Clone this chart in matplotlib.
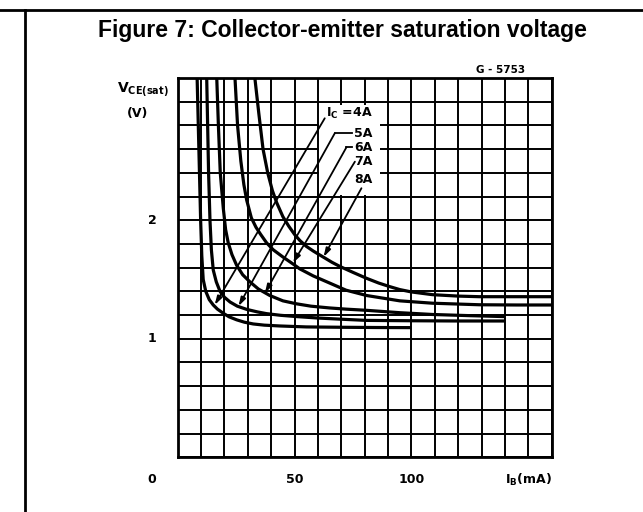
import matplotlib
matplotlib.use("Agg")
import matplotlib.pyplot as plt
from matplotlib.lines import Line2D
from matplotlib.patches import Rectangle

# I_B (mA) / V_CE(sat) (V), pentru fiecare curent de colector
ib_4a = [8.3, 8.8, 9.3, 9.8, 10.3, 10.9, 12, 13.5, 15.2, 17, 19.5, 22, 25.2, 28.5, 32.3, 37, 43.7, 55, 70, 85, 100]
vce_4a = [3.2, 2.8, 2.4, 2.0, 1.7, 1.50, 1.40, 1.33, 1.285, 1.25, 1.215, 1.185, 1.16, 1.14, 1.125, 1.115, 1.108,
          1.10, 1.097, 1.095, 1.094]

ib_5a = [12.4, 12.8, 13.2, 13.8, 14.4, 15.2, 16.5, 18.1, 20, 22.4, 25.5, 29.5, 34, 38, 44, 51, 60, 70, 80.8, 100,
         120, 140]
vce_5a = [3.2, 2.8, 2.4, 2.0, 1.75, 1.58, 1.48, 1.40, 1.35, 1.31, 1.275, 1.248, 1.227, 1.212, 1.198, 1.187, 1.175,
          1.165, 1.155, 1.152, 1.15, 1.15]

ib_6a = [16.7, 17.4, 18.2, 19.5, 20.5, 21.6, 23.2, 25.2, 27.8, 30.9, 34.5, 39.4, 45, 50.8, 57, 65, 72, 80.8, 95,
         109, 125, 140]
vce_6a = [3.2, 2.8, 2.4, 2.1, 1.92, 1.81, 1.71, 1.62, 1.54, 1.48, 1.42, 1.365, 1.32, 1.295, 1.275, 1.26, 1.25, 1.24,
          1.22, 1.205, 1.195, 1.187]

ib_7a = [24.5, 25.6, 27, 28.3, 29.5, 31.5, 33.5, 35.5, 38, 40.9, 45, 49.4, 52.2, 58, 65, 72, 80.8, 95, 109, 129,
         145, 160]
vce_7a = [3.2, 2.8, 2.5, 2.3, 2.17, 2.02, 1.94, 1.88, 1.81, 1.75, 1.69, 1.63, 1.59, 1.53, 1.47, 1.41, 1.365, 1.32,
          1.30, 1.287, 1.285, 1.285]

ib_8a = [33, 34.7, 36.5, 38.5, 40.5, 42.3, 45, 47.5, 50, 52.2, 55, 58, 62.2, 66, 69.4, 75, 80.8, 86, 90.7, 95, 100,
         109, 120, 129, 145, 160]
vce_8a = [3.2, 2.9, 2.6, 2.4, 2.25, 2.15, 2.03, 1.95, 1.88, 1.83, 1.78, 1.74, 1.69, 1.645, 1.61, 1.56, 1.51, 1.47,
          1.44, 1.415, 1.395, 1.372, 1.36, 1.355, 1.355, 1.355]

curbe = [(ib_4a, vce_4a), (ib_5a, vce_5a), (ib_6a, vce_6a), (ib_7a, vce_7a), (ib_8a, vce_8a)]

# etichete si sageti
etichete = ["I$_C$ =4A", "5A", "6A", "7A", "8A"]
pos_etichete = [(83.4, 2.903), (83.4, 2.734), (83.4, 2.616), (83.4, 2.494), (83.4, 2.34)]
start_sageti = [(62.9, 2.86), (67.2, 2.734), (72.2, 2.616), (75.8, 2.494), (78.6, 2.27)]
capat_palier = [None, 74.6, 74.6, None, None]
varf_sageti = [(15.8, 1.285), (26.0, 1.275), (37.3, 1.385), (49.3, 1.64), (62.4, 1.69)]

x_ticks = [50, 100]
y_ticks = [1, 2]

plt.rcParams['mathtext.default'] = 'bf'

fig = plt.figure(figsize=(6.43, 5.12), dpi=100)
ax = fig.add_axes([0.2764, 0.1068, 0.5816, 0.7409])

ax.set_xlim(0, 160)
ax.set_ylim(0, 3.2)
ax.set_xticks(range(0, 161, 10), minor=True)
ax.set_yticks([i * 0.2 for i in range(17)], minor=True)
ax.grid(which='minor', color='black', linewidth=1.4)
ax.set_xticks([])
ax.set_yticks([])
ax.tick_params(which='both', length=0)
for sp in ax.spines.values():
    sp.set_linewidth(2)

for ib, vce in curbe:
    ax.plot(ib, vce, color='black', linewidth=2.3, solid_capstyle='butt', solid_joinstyle='round', zorder=3)

# zona alba din spatele etichetelor
ax.add_patch(Rectangle((60.4, 2.21), 26, 0.76, facecolor='white', edgecolor='none', zorder=2))

font_chart = dict(fontweight='bold', fontsize=9, family='DejaVu Sans')
for txt, p, s, pal, v in zip(etichete, pos_etichete, start_sageti, capat_palier, varf_sageti):
    ax.text(p[0], p[1], txt, ha='right', va='center', zorder=5, **font_chart)
    if pal is not None:
        ax.plot([s[0], pal], [s[1], s[1]], color='black', linewidth=1.3, zorder=4)
    ax.annotate('', xy=v, xytext=s,
                arrowprops=dict(arrowstyle='-|>,head_length=0.5,head_width=0.15', color='black', lw=1.3,
                                shrinkA=0, shrinkB=0),
                zorder=4)

# etichete axe
for xt in x_ticks:
    ax.text(xt, -0.19, str(xt), ha='center', va='center', **font_chart)
ax.text(-11, -0.19, '0', ha='center', va='center', **font_chart)
ax.text(150, -0.19, 'I$_B$(mA)', ha='center', va='center', **font_chart)
for yt in y_ticks:
    ax.text(-11, yt, str(yt), ha='center', va='center', **font_chart)
ax.text(-15, 3.1, 'V$_{CE(sat)}$', ha='center', va='center', fontsize=10, fontweight='bold',
        family='DejaVu Sans')
ax.text(-17, 2.9, '(V)', ha='center', va='center', **font_chart)
ax.text(138, 3.27, 'G - 5753', ha='center', va='center', fontsize=7.5, fontweight='bold', family='DejaVu Sans')

fig.text(0.532, 1 - 31 / 512, 'Figure 7: Collector-emitter saturation voltage', ha='center', va='center',
         fontsize=16.5, fontweight='bold', family='Liberation Sans')

# chenarul paginii
fig.add_artist(Line2D([0, 1], [1 - 10 / 512, 1 - 10 / 512], color='black', linewidth=2))
fig.add_artist(Line2D([25 / 643, 25 / 643], [0, 1 - 10 / 512], color='black', linewidth=2))

fig.savefig('out.png', dpi=100)
